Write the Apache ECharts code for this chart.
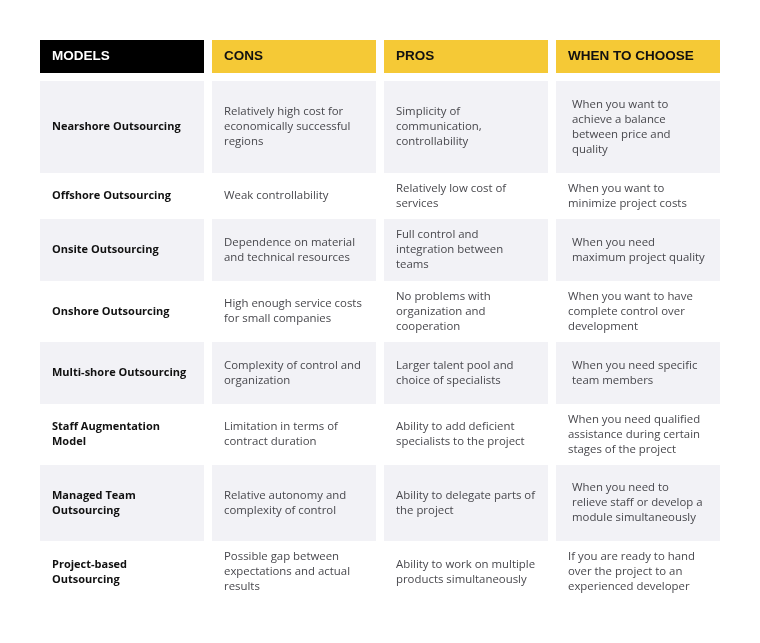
<!DOCTYPE html>
<html>
<head>
<meta charset="utf-8">
<title>Outsourcing models</title>
<script src="https://cdn.jsdelivr.net/npm/echarts@6/dist/echarts.min.js"></script>
<style>
  html, body { margin: 0; padding: 0; background: #fff; }
  #table { width: 760px; height: 643px; }
</style>
</head>
<body>
<div id="table"></div>
<script>
// 表格数据
const columns = ['MODELS', 'CONS', 'PROS', 'WHEN TO CHOOSE'];
const models = [
  'Nearshore Outsourcing',
  'Offshore Outsourcing',
  'Onsite Outsourcing',
  'Onshore Outsourcing',
  'Multi-shore Outsourcing',
  'Staff Augmentation\nModel',
  'Managed Team\nOutsourcing',
  'Project-based\nOutsourcing'
];
const cons = [
  'Relatively high cost for\neconomically successful\nregions',
  'Weak controllability',
  'Dependence on material\nand technical resources',
  'High enough service costs\nfor small companies',
  'Complexity of control and\norganization',
  'Limitation in terms of\ncontract duration',
  'Relative autonomy and\ncomplexity of control',
  'Possible gap between\nexpectations and actual\nresults'
];
const pros = [
  'Simplicity of\ncommunication,\ncontrollability',
  'Relatively low cost of\nservices',
  'Full control and\nintegration between\nteams',
  'No problems with\norganization and\ncooperation',
  'Larger talent pool and\nchoice of specialists',
  'Ability to add deficient\nspecialists to the project',
  'Ability to delegate parts of\nthe project',
  'Ability to work on multiple\nproducts simultaneously'
];
const whenToChoose = [
  'When you want to\nachieve a balance\nbetween price and\nquality',
  'When you want to\nminimize project costs',
  'When you need\nmaximum project quality',
  'When you want to have\ncomplete control over\ndevelopment',
  'When you need specific\nteam members',
  'When you need qualified\nassistance during certain\nstages of the project',
  'When you need to\nrelieve staff or develop a\nmodule simultaneously',
  'If you are ready to hand\nover the project to an\nexperienced developer'
];

// 布局：每一行（含表头）的高度，单位 px
const rowHeights = [41, 100, 38, 70, 53, 70, 53, 84, 54];

var chartDom = document.getElementById('table');
var myChart = echarts.init(chartDom);

// 拼出单元格：[列, 行起点, 行终点, 文本, 行号]
var cells = [];
var acc = 0;
var rowStarts = [];
rowHeights.forEach(function (h) { rowStarts.push(acc); acc += h; });
var total = acc;

columns.forEach(function (name, c) {
  cells.push([c, rowStarts[0], rowStarts[0] + rowHeights[0], name, 0]);
});
var bodyCols = [models, cons, pros, whenToChoose];
for (var r = 0; r < models.length; r++) {
  for (var c = 0; c < bodyCols.length; c++) {
    var s = rowStarts[r + 1];
    cells.push([c, s, s + rowHeights[r + 1], bodyCols[c][r], r + 1]);
  }
}

var FONT = '"Open Sans", "Liberation Sans", Arial, sans-serif';

function renderCell(params, api) {
  var col = api.value(0);
  var row = api.value(4);
  var bw = api.size([1, 0])[0];
  var cx = api.coord([col, 0])[0];
  var y0 = api.coord([0, api.value(1)])[1];
  var y1 = api.coord([0, api.value(2)])[1];
  var left = cx - bw / 2 + 4;
  var top = y0 + 4;
  var w = bw - 8;
  var h = y1 - y0 - 8;
  var text = cells[params.dataIndex][3];

  var fill = null;
  var textStyle;
  var pad = 12;
  if (row === 0) {
    fill = col === 0 ? '#000000' : '#F5C936';
    textStyle = {
      fill: col === 0 ? '#ffffff' : '#111111',
      fontSize: 13.5,
      fontWeight: 'bold',
      fontFamily: 'Liberation Sans, Arial, sans-serif'
    };
  } else {
    var gray = row % 2 === 1;
    if (gray) fill = '#F2F2F6';
    if (gray && col === 3) pad = 16;
    textStyle = col === 0 ? {
      fill: '#111111',
      fontSize: 11,
      fontWeight: 'bold',
      fontFamily: FONT
    } : {
      fill: '#48484d',
      fontSize: 11.4,
      fontWeight: 'normal',
      fontFamily: FONT
    };
  }

  var children = [];
  if (fill) {
    children.push({
      type: 'rect',
      shape: { x: left, y: top, width: w, height: h },
      style: { fill: fill }
    });
  }
  children.push({
    type: 'text',
    style: Object.assign({
      text: text,
      x: left + pad,
      y: top + h / 2,
      align: 'left',
      verticalAlign: 'middle',
      lineHeight: 15
    }, textStyle)
  });
  return { type: 'group', children: children };
}

var option = {
  animation: false,
  grid: { left: 36, right: 36, top: 36, height: total },
  xAxis: {
    type: 'category',
    data: columns,
    boundaryGap: true,
    show: false
  },
  yAxis: {
    type: 'value',
    min: 0,
    max: total,
    inverse: true,
    show: false
  },
  series: [
    {
      type: 'custom',
      renderItem: renderCell,
      encode: { x: 0, y: [1, 2] },
      data: cells.map(function (d) { return [d[0], d[1], d[2], d[4], d[4]]; })
    }
  ]
};
myChart.setOption(option);
</script>
</body>
</html>
